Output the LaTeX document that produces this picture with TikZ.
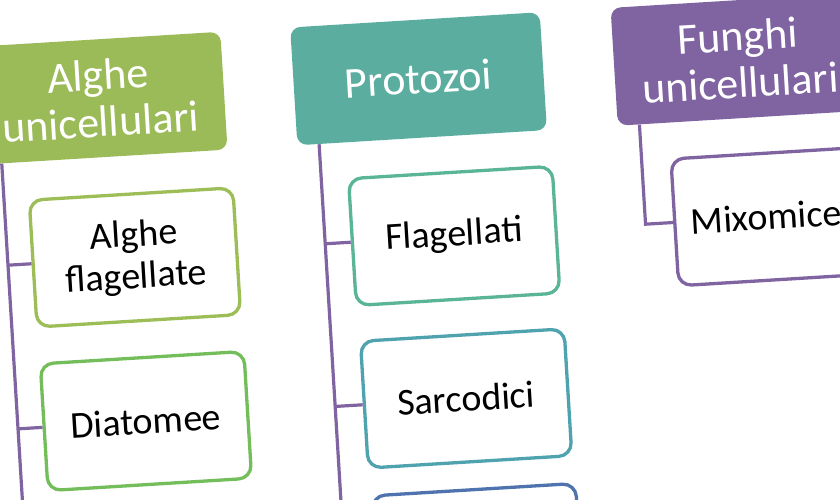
\documentclass[tikz,border=0pt]{standalone}
\usepackage{fontspec}
\setmainfont{Carlito}
\usetikzlibrary{positioning,calc}
\definecolor{hdrgreen}{HTML}{9BBB59}
\definecolor{hdrteal}{HTML}{5AAD9F}
\definecolor{hdrpurple}{HTML}{8064A2}
\definecolor{linkpurple}{HTML}{8064A2}
\definecolor{rimlime}{HTML}{9DBE57}
\definecolor{rimgreen}{HTML}{73BE5A}
\definecolor{rimsea}{HTML}{5AB596}
\definecolor{rimcyan}{HTML}{4FA3AE}
\definecolor{rimblue}{HTML}{4F73AE}

\begin{document}
\begin{tikzpicture}[x=1pt, y=1pt,
    header/.style={rounded corners=10pt, minimum width=250pt, minimum height=118pt,
      inner sep=0pt, align=center, text=white, font=\fontsize{44}{47}\selectfont},
    leaf/.style={draw, line width=3.3pt, fill=white, rounded corners=13pt,
      minimum width=204pt, minimum height=127pt, inner sep=0pt, align=center,
      font=\fontsize{38}{42}\selectfont},
    link/.style={draw=linkpurple, line width=3.2pt},
  ]
  \useasboundingbox (0,0) rectangle (840,500);
  \clip (0,0) rectangle (840,500);
  \begin{scope}[rotate around={3.5:(420,250)}, transform shape]
    % top level
    \node[header, fill=hdrgreen] (alghe) at (109,421) {Alghe\\unicellulari};
    \node[header, fill=hdrteal] (proto) at (429,421) {Protozoi};
    \node[header, fill=hdrpurple] (funghi) at (750,421) {Funghi\\unicellulari};

    % second level
    \node[leaf, draw=rimlime] (aflag) at (135,260) {Alghe\\flagellate};
    \node[leaf, draw=rimgreen] (diato) at (136,96) {Diatomee};
    \node[leaf, draw=rimsea] (pflag) at (455,262) {Flagellati};
    \node[leaf, draw=rimcyan] (sarco) at (457,99) {Sarcodici};
    \node[leaf, draw=rimblue] (pthird) at (459,-56) {};
    \node[leaf, draw=hdrpurple] (mixo) at (778,262) {Mixomiceti};

    % trunks
    \coordinate (atop) at ($(alghe.south west)!24pt!(alghe.south east)$);
    \coordinate (abot) at ($(atop)!600pt!-90:(alghe.south east)$);
    \coordinate (ptop) at ($(proto.south west)!22pt!(proto.south east)$);
    \coordinate (pbot) at ($(ptop)!600pt!-90:(proto.south east)$);
    \coordinate (ftop) at ($(funghi.south west)!22pt!(funghi.south east)$);
    \coordinate (fbot) at ($(ftop)!600pt!-90:(funghi.south east)$);

    \draw[link] (atop) -- (abot);
    \draw[link] ($(atop)!(aflag.west)!(abot)$) -- (aflag.west);
    \draw[link] ($(atop)!(diato.west)!(abot)$) -- (diato.west);

    \draw[link] (ptop) -- (pbot);
    \draw[link] ($(ptop)!(pflag.west)!(pbot)$) -- (pflag.west);
    \draw[link] ($(ptop)!(sarco.west)!(pbot)$) -- (sarco.west);
    \draw[link] ($(ptop)!(pthird.west)!(pbot)$) -- (pthird.west);

    \draw[link] (ftop) -- ($(ftop)!(mixo.west)!(fbot)$) -- (mixo.west);
  \end{scope}
\end{tikzpicture}
\end{document}
